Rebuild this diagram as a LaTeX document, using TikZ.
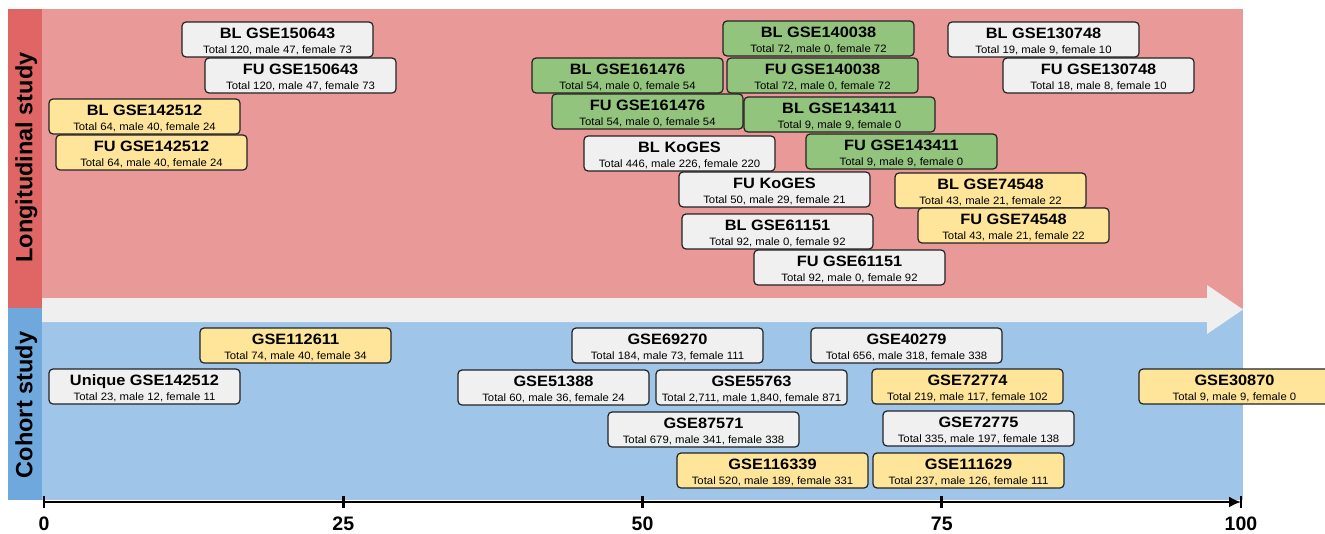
\documentclass[tikz,border=0pt]{standalone}
\usepackage{fontspec}
\setmainfont{Liberation Sans}
\usepackage{graphicx}
\usetikzlibrary{arrows.meta}
\definecolor{pinkbg}{HTML}{EA9999}
\definecolor{redstrip}{HTML}{E06666}
\definecolor{bluebg}{HTML}{9FC5E8}
\definecolor{bluestrip}{HTML}{6FA8DC}
\definecolor{bandgray}{HTML}{EEEFEE}
\definecolor{boxgray}{HTML}{EFF0EF}
\definecolor{boxyellow}{HTML}{FFE599}
\definecolor{boxgreen}{HTML}{93C47D}
\definecolor{edgecol}{HTML}{222222}
\newcommand\ttlfont{\fontsize{15}{18}\selectfont\bfseries}
\newcommand\subfont{\fontsize{10.7}{12}\selectfont}
\newcommand\dset[6]{%
  \node[dsbox,fill=#2,anchor=north west] (#1) at (#3,#4) {};
  \node[dstitle] (#1-t) at ([yshift=-16.8pt]#1.north) {\scalebox{1.09}[1]{#5}};
  \node[dssub] (#1-s) at ([yshift=-31.3pt]#1.north) {\scalebox{1.06}[1]{#6}};
}
\tikzset{
  dsbox/.style={draw=edgecol, line width=1.2pt, rounded corners=4pt, minimum width=191pt, minimum height=35pt, inner sep=0pt, outer sep=0pt},
  dstitle/.style={anchor=base, inner sep=0pt, font=\ttlfont},
  dssub/.style={anchor=base, inner sep=0pt, font=\subfont},
  sidelabel/.style={rotate=90, anchor=base, inner sep=0pt, font=\fontsize{23.5}{28}\selectfont\bfseries},
  ticklab/.style={anchor=base, inner sep=0pt, font=\fontsize{19.5}{24}\selectfont\bfseries},
}
\begin{document}
\begin{tikzpicture}[x=1pt,y=-1pt]
\useasboundingbox (0,0) rectangle (1325,533);
\clip (0,0) rectangle (1325,533);
\fill[white] (0,0) rectangle (1325,533);
% backgrounds
\fill[pinkbg] (42,9) rectangle (1243,308);
\fill[redstrip] (8,9) rectangle (42,308);
\fill[bluebg] (42,308) rectangle (1243,500);
\fill[bluestrip] (8,308) rectangle (42,500);
\fill[bandgray] (42,298) -- (1207,298) -- (1207,285) -- (1243,309.5) -- (1207,334) -- (1207,322) -- (42,322) -- cycle;
% side labels
\node[sidelabel] (longlab) at (32.3,157.5) {Longitudinal study};
\node[sidelabel] (cohlab) at (32.3,405) {Cohort study};
% longitudinal datasets
\dset{l1}{boxgray}{182}{22}{BL GSE150643}{Total 120, male 47, female 73}
\dset{l2}{boxgray}{205}{58}{FU GSE150643}{Total 120, male 47, female 73}
\dset{l3}{boxyellow}{49}{99}{BL GSE142512}{Total 64, male 40, female 24}
\dset{l4}{boxyellow}{56}{135}{FU GSE142512}{Total 64, male 40, female 24}
\dset{l5}{boxgreen}{723}{21}{BL GSE140038}{Total 72, male 0, female 72}
\dset{l6}{boxgreen}{532}{58}{BL GSE161476}{Total 54, male 0, female 54}
\dset{l7}{boxgreen}{727}{58}{FU GSE140038}{Total 72, male 0, female 72}
\dset{l8}{boxgreen}{552}{94}{FU GSE161476}{Total 54, male 0, female 54}
\dset{l9}{boxgreen}{744}{97}{BL GSE143411}{Total 9, male 9, female 0}
\dset{l10}{boxgray}{584}{136}{BL KoGES}{Total 446, male 226, female 220}
\dset{l11}{boxgreen}{806}{134}{FU GSE143411}{Total 9, male 9, female 0}
\dset{l12}{boxgray}{948}{22}{BL GSE130748}{Total 19, male 9, female 10}
\dset{l13}{boxgray}{1003}{58}{FU GSE130748}{Total 18, male 8, female 10}
\dset{l14}{boxgray}{679}{172}{FU KoGES}{Total 50, male 29, female 21}
\dset{l15}{boxyellow}{895}{173}{BL GSE74548}{Total 43, male 21, female 22}
\dset{l16}{boxgray}{682}{214}{BL GSE61151}{Total 92, male 0, female 92}
\dset{l17}{boxyellow}{918}{208}{FU GSE74548}{Total 43, male 21, female 22}
\dset{l18}{boxgray}{754}{250}{FU GSE61151}{Total 92, male 0, female 92}
% cohort datasets
\dset{c1}{boxyellow}{200}{328}{GSE112611}{Total 74, male 40, female 34}
\dset{c2}{boxgray}{49}{369}{Unique GSE142512}{Total 23, male 12, female 11}
\dset{c3}{boxgray}{572}{328}{GSE69270}{Total 184, male 73, female 111}
\dset{c4}{boxgray}{458}{370}{GSE51388}{Total 60, male 36, female 24}
\dset{c5}{boxgray}{656}{370}{GSE55763}{Total 2,711, male 1,840, female 871}
\dset{c6}{boxgray}{608}{412}{GSE87571}{Total 679, male 341, female 338}
\dset{c7}{boxyellow}{677}{453}{GSE116339}{Total 520, male 189, female 331}
\dset{c8}{boxgray}{811}{328}{GSE40279}{Total 656, male 318, female 338}
\dset{c9}{boxyellow}{872}{369}{GSE72774}{Total 219, male 117, female 102}
\dset{c10}{boxyellow}{1139}{369}{GSE30870}{Total 9, male 9, female 0}
\dset{c11}{boxgray}{883}{411}{GSE72775}{Total 335, male 197, female 138}
\dset{c12}{boxyellow}{873}{453}{GSE111629}{Total 237, male 126, female 111}
% axis
\coordinate (a0) at (44,502);
\coordinate (a100) at (1241,502);
\draw[line width=2.2pt, -{Latex[length=12pt,width=11pt]}] (a0) -- (a100);
\foreach \v in {0,25,50,75,100} {
  \pgfmathsetmacro\xx{44+11.97*\v}
  \draw[line width=2.6pt] (\xx,496) -- (\xx,508);
  \node[ticklab] (tl\v) at (\xx,530) {\v};
}
\end{tikzpicture}
\end{document}
